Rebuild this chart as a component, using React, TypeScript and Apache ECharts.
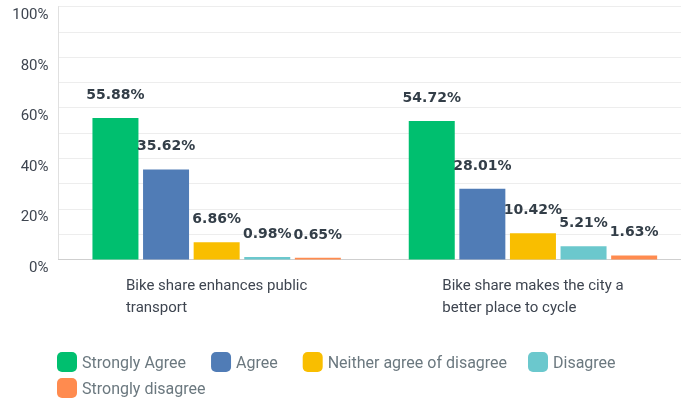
import React, { useEffect, useRef } from 'react';
import * as echarts from 'echarts';

const categories = [
  'Bike share enhances public\ntransport',
  'Bike share makes the city a\nbetter place to cycle',
];
const seriesNames = [
  'Strongly Agree',
  'Agree',
  'Neither agree of disagree',
  'Disagree',
  'Strongly disagree',
];
const stronglyAgree = [55.88, 54.72];
const agree = [35.62, 28.01];
const neither = [6.86, 10.42];
const disagree = [0.98, 5.21];
const stronglyDisagree = [0.65, 1.63];
const yTickLabels = [0, 20, 40, 60, 80, 100];

const colors = ['#00BF6F', '#507CB6', '#F9BE00', '#6BC8CD', '#FF8B4F'];

export default function App() {
  const ref = useRef<HTMLDivElement>(null);

  useEffect(() => {
    if (!ref.current) return;
    const chart = echarts.init(ref.current, null, { renderer: 'svg' });
    const values = [stronglyAgree, agree, neither, disagree, stronglyDisagree];

    const legendBase = {
      icon: 'roundRect',
      itemWidth: 20,
      itemHeight: 20,
      itemGap: 25,
      padding: 0,
      selectedMode: false,
      orient: 'horizontal',
      textStyle: { fontFamily: 'Roboto', fontSize: 16, color: '#6B787F' },
    };

    chart.setOption({
      animation: false,
      color: colors,
      grid: { left: 58.5, top: 6.5, width: 632.6, height: 253, containLabel: false },
      legend: [
        { ...legendBase, left: 57, top: 352, data: seriesNames.slice(0, 3) },
        { ...legendBase, left: 528, top: 352, data: seriesNames.slice(3, 4) },
        { ...legendBase, left: 57, top: 378, data: seriesNames.slice(4) },
      ],
      xAxis: {
        type: 'category',
        data: categories,
        axisTick: { show: false },
        axisLine: { show: true, lineStyle: { color: '#CFCFCF', width: 1 } },
        axisLabel: {
          margin: 14,
          fontFamily: 'Roboto',
          fontSize: 15,
          lineHeight: 22,
          color: '#3E4550',
          formatter: (v: string) =>
            v
              .split('\n')
              .map((l) => `{a|${l}}`)
              .join('\n'),
          rich: {
            a: {
              align: 'left',
              fontFamily: 'Roboto',
              fontSize: 15,
              lineHeight: 22,
              color: '#3E4550',
            },
          },
        },
      },
      yAxis: {
        type: 'value',
        min: 0,
        max: 100,
        interval: 10,
        axisLine: { show: true, lineStyle: { color: '#E0E0E0', width: 1 } },
        axisTick: { show: false },
        splitLine: { show: true, lineStyle: { color: '#EDEDED', width: 1 } },
        axisLabel: {
          margin: 10,
          fontFamily: 'Roboto',
          fontSize: 15,
          color: '#3E4550',
          verticalAlign: 'top',
          formatter: (v: number) => (yTickLabels.includes(v) ? `${v}%` : ''),
        },
      },
      series: seriesNames.map((name, i) => ({
        name,
        type: 'bar',
        data: values[i],
        barWidth: 46,
        barGap: '10%',
        itemStyle: { color: colors[i] },
        label: {
          show: true,
          position: 'top',
          distance: 17,
          fontFamily: 'DejaVu Sans',
          fontWeight: 'bold',
          fontSize: 14,
          color: '#333E48',
          formatter: (p: any) => `${Number(p.value).toFixed(2)}%`,
        },
      })),
    });

    return () => chart.dispose();
  }, []);

  return (
    <div
      ref={ref}
      style={{ position: 'fixed', left: 0, top: 0, width: 700, height: 403 }}
    />
  );
}
